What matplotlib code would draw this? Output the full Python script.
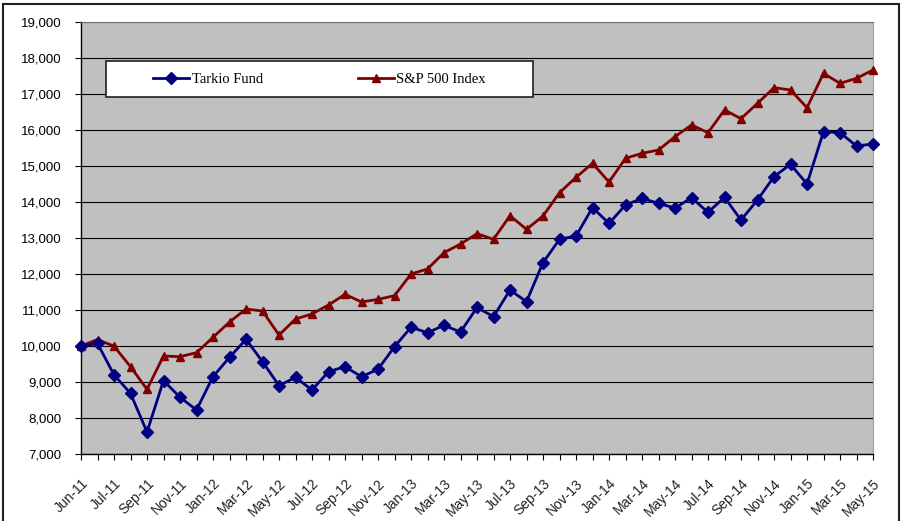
import matplotlib
matplotlib.use("Agg")
import matplotlib.pyplot as plt
import matplotlib.transforms as mtransforms
from matplotlib.patches import Rectangle
from matplotlib.ticker import FuncFormatter
import pandas as pd

# category axis: start date, then month ends
dates = [pd.Timestamp("2011-06-01")] + list(pd.date_range("2011-06-30", "2015-05-31", freq="ME"))
labels = [d.strftime("%b-%y") for d in dates]

tarkio = [10000, 10070, 9200, 8685, 7610, 9040, 8575, 8222, 9148, 9685,
          10185, 9565, 8900, 9130, 8778, 9287, 9425, 9148, 9352, 9981,
          10519, 10370, 10574, 10389, 11070, 10815, 11555, 11231, 12315, 12963,
          13056, 13843, 13407, 13917, 14102, 13963, 13830, 14120, 13713, 14130,
          13500, 14056, 14704, 15046, 14500, 15954, 15926, 15556, 15611]

sp500 = [10000, 10180, 9995, 9425, 8796, 9722, 9703, 9814, 10240, 10667,
         11028, 10972, 10305, 10750, 10889, 11139, 11435, 11222, 11296, 11398,
         12000, 12139, 12593, 12833, 13120, 12963, 13620, 13241, 13611, 14259,
         14685, 15074, 14556, 15213, 15352, 15444, 15815, 16139, 15926, 16556,
         16315, 16741, 17176, 17111, 16620, 17574, 17296, 17435, 17667]

W, H = 906, 521
fig = plt.figure(figsize=(W / 100, H / 100), dpi=100)
ax = fig.add_axes([81 / W, (H - 454) / H, (873 - 81) / W, (454 - 22) / H])
ax.set_facecolor("#c0c0c0")

x = list(range(len(dates)))
ax.plot(x, tarkio, color="#000080", lw=2, marker="D", ms=6, clip_on=False,
        zorder=4, label="Tarkio Fund")
ax.plot(x, sp500, color="#800000", lw=2, marker="^", ms=6, clip_on=False,
        zorder=3, label="S&P 500 Index")

ax.set_xlim(0, len(dates) - 1)
ax.set_ylim(7000, 19000)
ax.set_yticks(range(7000, 19001, 1000))
ax.yaxis.set_major_formatter(FuncFormatter(lambda v, p: f"{int(v):,}"))
ax.grid(axis="y", color="black", lw=0.8)
ax.set_axisbelow(True)

ax.set_xticks(x)
ax.set_xticklabels([lab if i % 2 == 0 else "" for i, lab in enumerate(labels)],
                   rotation=45, ha="right", va="top", rotation_mode="anchor",
                   fontfamily="Liberation Sans", fontsize=10, color="#222222")
shift = mtransforms.ScaledTranslation(-7 / 100, 0, fig.dpi_scale_trans)
for t in ax.get_xticklabels():
    t.set_transform(t.get_transform() + shift)
for t in ax.get_yticklabels():
    t.set_fontfamily("Liberation Sans")
    t.set_fontsize(9.5)
ax.tick_params(axis="x", direction="out", length=4, width=0.8, pad=12)
ax.tick_params(axis="y", direction="out", length=4, width=0.8, pad=10)

for s in ["left", "bottom"]:
    ax.spines[s].set_color("black")
    ax.spines[s].set_linewidth(1)
ax.spines["top"].set_color("#707070")
ax.spines["right"].set_color("#a0a0a0")

# legend box
x0, x1 = (106 - 81) / 792, (533 - 81) / 792
y0, y1 = (454 - 97) / 432, (454 - 61) / 432
ax.add_patch(Rectangle((x0, y0), x1 - x0, y1 - y0, transform=ax.transAxes,
                       facecolor="white", edgecolor="#202020", lw=1.2, zorder=5))
leg = ax.legend(loc="center left", bbox_to_anchor=((153 - 81) / 792, (y0 + y1) / 2),
                ncol=2, frameon=False, borderpad=0, borderaxespad=0,
                handlelength=2.5, handletextpad=0.15, columnspacing=6.5,
                prop={"family": "Liberation Serif", "size": 10.5})
leg.set_zorder(6)

# outer frame
fig.add_artist(Rectangle((3 / W, -0.02), (899 - 3) / W, (H - 4) / H + 0.02,
                         transform=fig.transFigure, fill=False,
                         edgecolor="#202020", lw=1.5))

fig.savefig("out.png", dpi=100)
